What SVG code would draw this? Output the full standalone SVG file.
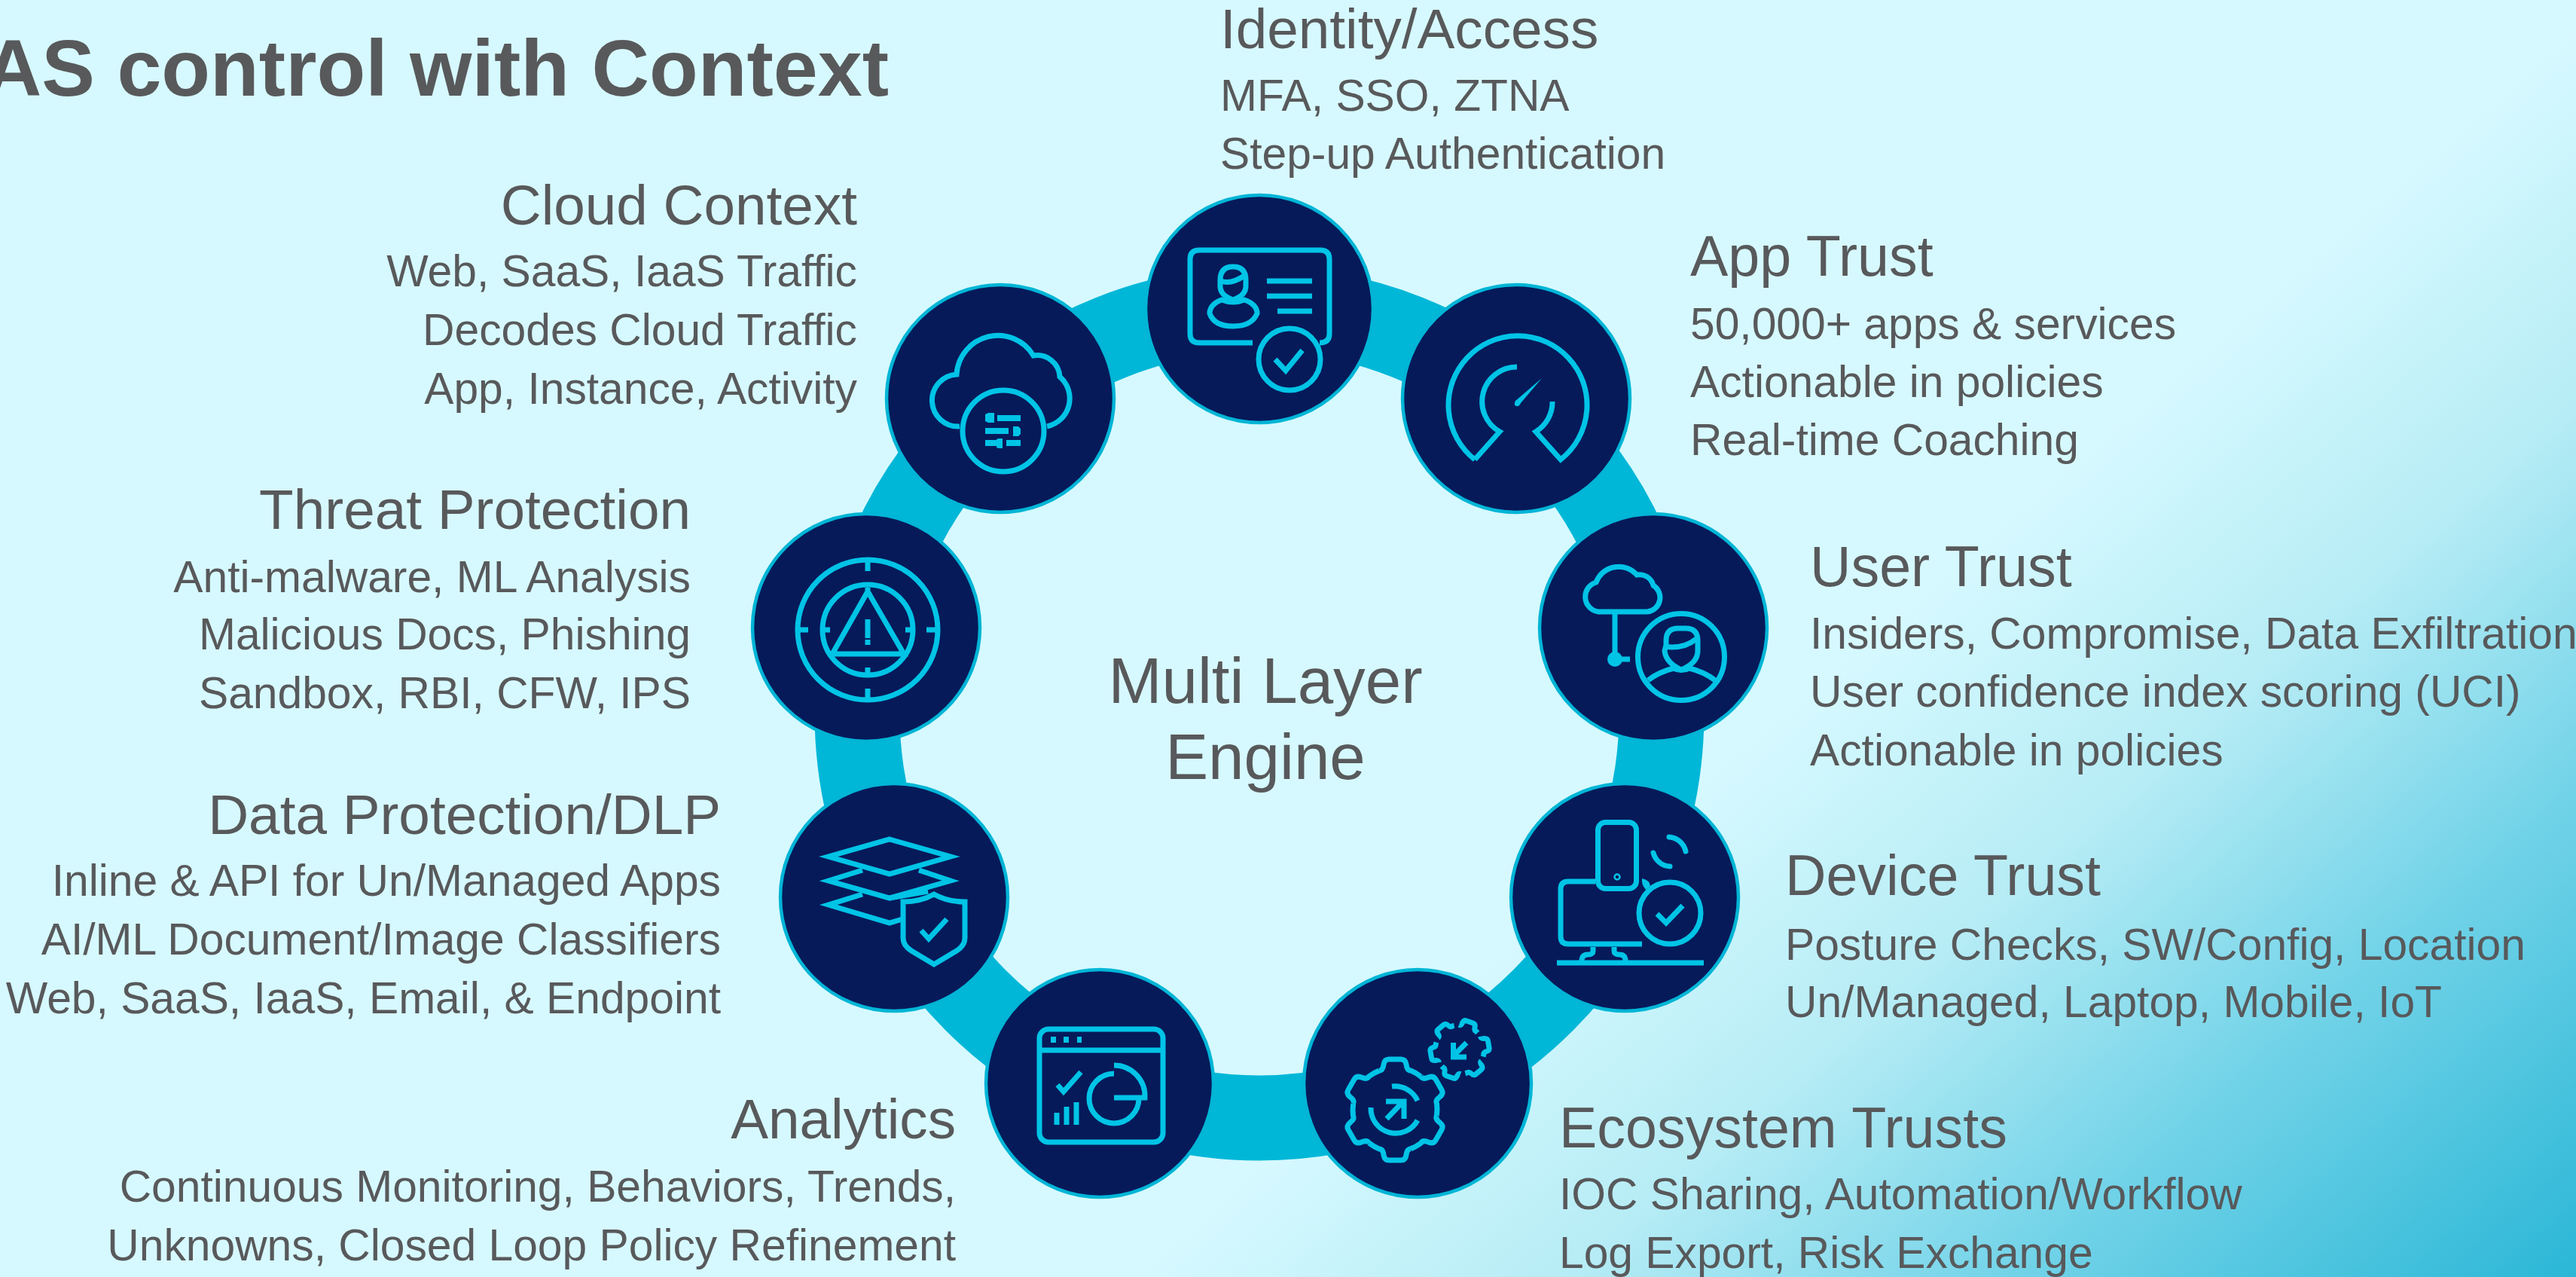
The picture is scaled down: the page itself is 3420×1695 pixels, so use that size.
<svg xmlns="http://www.w3.org/2000/svg" width="3420" height="1695" viewBox="0 0 3420 1695">
<style>
text{font-family:"Liberation Sans",Arial,sans-serif;fill:#58595b}
.title{font-size:106px;font-weight:700}
.h{font-size:74.7px}
.hl{font-size:75.4px}
.b{font-size:58.75px}
.c{font-size:85.3px;text-anchor:middle}
.e{text-anchor:end}
.disc{fill:#061a5a;stroke:#00b5d6;stroke-width:4.5}
.i{fill:none;stroke:#00c4e6;stroke-width:7}
.f{fill:#00c4e6}
</style>
<defs>
<linearGradient id="bg" gradientUnits="userSpaceOnUse" x1="2500" y1="830" x2="3330" y2="1790">
<stop offset="0" stop-color="#d6f9ff"/>
<stop offset=".3" stop-color="#b6ecf5"/>
<stop offset=".6" stop-color="#72d3e8"/>
<stop offset="1" stop-color="#29b6d6"/>
</linearGradient>
<path id="tooth" d="M-21 -52Q-16 -52 -15 -60Q-14 -67 -8 -67H8Q14 -67 15 -60Q16 -52 21 -52A56 56 0 0 1 34.5 -44"/>
</defs>
<rect id="background" width="3420" height="1695" fill="url(#bg)"/>
<text class="title e" x="1180" y="127">AS control with Context</text>
<g id="connectors"><ellipse cx="1672" cy="947" rx="534" ry="537" fill="none" stroke="#00b7d8" stroke-width="113"/></g>
<g id="center"><text class="c" x="1680" y="933">Multi Layer</text><text class="c" x="1680" y="1034">Engine</text></g>

<g id="identity-access">
<circle class="disc" cx="1672" cy="410" r="151"/>
<g class="i">
<path d="M1663 455H1592Q1580 455 1580 443V344Q1580 332 1592 332H1753Q1765 332 1765 344V443Q1765 455 1752 455"/>
<path d="M1682 373H1742M1682 393H1742M1696 413H1742"/>
<circle cx="1712" cy="477" r="41"/>
<path d="M1693 477L1707 492L1729 465"/>
<path d="M1620 372Q1620 354 1637 354Q1654 354 1654 372V380Q1654 392 1637 398Q1620 392 1620 380Z"/>
<path d="M1621 373Q1634 378 1652 366"/>
<path d="M1622 398Q1606 404 1606 416Q1612 433 1637 433Q1662 433 1669 416Q1669 404 1652 398Q1637 404 1622 398Z"/>
</g>
<text class="h" x="1620" y="64">Identity/Access</text>
<text class="b" x="1620" y="147">MFA, SSO, ZTNA</text>
<text class="b" x="1620" y="224">Step-up Authentication</text>
</g>

<g id="app-trust">
<circle class="disc" cx="2013" cy="529" r="151"/>
<g class="i">
<path d="M1958 610A92 92 0 1 1 2072 610L2039 573A46 46 0 0 0 2061 533"/>
<path d="M2014 487A46 46 0 0 0 1991 573L1958 610"/>
</g>
<path class="f" d="M2047 502L2012 532Q2009 538 2013 539Q2017 540 2019 535Z"/>
<text class="hl" x="2244" y="366">App Trust</text>
<text class="b" x="2244" y="450">50,000+ apps &amp; services</text>
<text class="b" x="2244" y="527">Actionable in policies</text>
<text class="b" x="2244" y="604">Real-time Coaching</text>
</g>

<g id="user-trust">
<circle class="disc" cx="2195" cy="833" r="151"/>
<g class="i">
<path d="M2122 812A20 20 0 0 1 2119 773A32 32 0 0 1 2173 763A19 19 0 0 1 2195 777A19 19 0 0 1 2187 812Z"/>
<path d="M2144 812V875H2164"/>
<circle cx="2232" cy="872" r="57.5"/>
<path d="M2212 856V850Q2212 834 2228 834H2238Q2254 834 2254 850V864Q2254 880 2232 889Q2212 880 2210 864Z"/>
<path d="M2210 858Q2235 862 2252 848"/>
<path d="M2188 903Q2202 892 2222 887Q2232 892 2243 887Q2263 892 2277 903"/>
</g>
<circle class="f" cx="2144" cy="875" r="10"/>
<text class="hl" x="2403" y="778">User Trust</text>
<text class="b" x="2403" y="861">Insiders, Compromise, Data Exfiltration</text>
<text class="b" x="2403" y="938">User confidence index scoring (UCI)</text>
<text class="b" x="2403" y="1016">Actionable in policies</text>
</g>

<g id="device-trust">
<circle class="disc" cx="2157" cy="1191" r="151"/>
<g class="i">
<rect x="2121.5" y="1091.5" width="51" height="88" rx="10"/>
<path d="M2118 1170H2082Q2072 1170 2072 1180V1243Q2072 1253 2082 1253H2180"/>
<path d="M2115 1257V1262Q2115 1267 2108 1267Q2100 1267 2100 1275M2143 1257V1262Q2143 1267 2150 1267Q2158 1267 2158 1275"/>
<path d="M2067 1278H2262"/>
<circle cx="2217" cy="1212" r="41"/>
<path d="M2200 1213L2212 1225L2234 1202"/>
<path d="M2216 1111A24 24 0 0 1 2238 1130M2195 1132A24 24 0 0 0 2217 1150" stroke-linecap="round"/>
</g>
<circle cx="2147" cy="1164" r="3.5" fill="none" stroke="#00c4e6" stroke-width="2.5"/>
<path class="f" d="M2180 1166Q2190 1168 2191 1176L2185 1181Q2179 1174 2180 1166Z"/>
<text class="hl" x="2370" y="1188">Device Trust</text>
<text class="b" x="2370" y="1274">Posture Checks, SW/Config, Location</text>
<text class="b" x="2370" y="1350">Un/Managed, Laptop, Mobile, IoT</text>
</g>

<g id="ecosystem-trusts">
<circle class="disc" cx="1882" cy="1438" r="151"/>
<g class="i">
<g transform="translate(1852 1473)">
<use href="#tooth"/><use href="#tooth" transform="rotate(60)"/><use href="#tooth" transform="rotate(120)"/><use href="#tooth" transform="rotate(180)"/><use href="#tooth" transform="rotate(240)"/><use href="#tooth" transform="rotate(300)"/>
</g>
<path d="M1848 1442A33 33 0 0 1 1882 1461M1820 1470A33 33 0 0 0 1882 1487"/>
<path d="M1841 1485L1863 1462M1840 1462H1864V1485"/>
<g transform="translate(1938 1393) rotate(20) scale(.58)" stroke-width="12" stroke-dasharray="64 11">
<use href="#tooth"/><use href="#tooth" transform="rotate(60)"/><use href="#tooth" transform="rotate(120)"/><use href="#tooth" transform="rotate(180)"/><use href="#tooth" transform="rotate(240)"/><use href="#tooth" transform="rotate(300)"/>
</g>
<path d="M1947 1384L1932 1399M1929.5 1384V1403H1947"/>
</g>
<text class="hl" x="2070" y="1523">Ecosystem Trusts</text>
<text class="b" x="2070" y="1605">IOC Sharing, Automation/Workflow</text>
<text class="b" x="2070" y="1683">Log Export, Risk Exchange</text>
</g>

<g id="analytics">
<circle class="disc" cx="1460" cy="1438" r="151"/>
<g class="i">
<rect x="1380" y="1366" width="164" height="150" rx="12"/>
<path d="M1380 1394H1544"/>
<path d="M1404 1440L1412 1449L1435 1423"/>
<path d="M1403 1493V1477M1416 1493V1469M1429 1493V1463"/>
<path d="M1479 1425A33 33 0 1 0 1512 1458"/>
<path d="M1479 1414A41 41 0 0 1 1520 1457H1479"/>
</g>
<path class="f" d="M1395 1376h7v8h-7zM1412 1376h7v8h-7zM1430 1376h6v8h-6z"/>
<text class="h e" x="1269" y="1511">Analytics</text>
<text class="b e" x="1269" y="1595">Continuous Monitoring, Behaviors, Trends,</text>
<text class="b e" x="1269" y="1673">Unknowns, Closed Loop Policy Refinement</text>
</g>

<g id="data-protection">
<circle class="disc" cx="1187" cy="1191" r="151"/>
<g class="i">
<path d="M1181 1114L1262 1137L1181 1160L1100 1137Z"/>
<path d="M1220 1155L1262 1169L1181 1192L1100 1169L1145 1155"/>
<path d="M1145 1187L1100 1201L1181 1225L1198 1220M1181 1192L1232 1183"/>
<path d="M1240 1187Q1222 1197 1199 1197V1245Q1199 1255 1210 1262L1240 1280L1270 1262Q1281 1255 1281 1245V1197Q1258 1197 1240 1187Z"/>
<path d="M1223 1235L1233 1246L1257 1220"/>
</g>
<text class="h e" x="957" y="1107">Data Protection/DLP</text>
<text class="b e" x="957" y="1189">Inline &amp; API for Un/Managed Apps</text>
<text class="b e" x="957" y="1267">AI/ML Document/Image Classifiers</text>
<text class="b e" x="957" y="1345">Web, SaaS, IaaS, Email, &amp; Endpoint</text>
</g>

<g id="threat-protection">
<circle class="disc" cx="1150" cy="833" r="151"/>
<g class="i">
<circle cx="1152" cy="836" r="93"/>
<circle cx="1152" cy="836" r="60"/>
<path d="M1152 746V758M1152 914V926M1062 836H1073M1230 836H1242M1095 836H1102M1202 836H1209M1152 886V893"/>
<path d="M1152 780V788M1152 785L1105 868H1200Z"/>
<path d="M1152 822V847M1152 849V856"/>
</g>
<text class="h e" x="917" y="702">Threat Protection</text>
<text class="b e" x="917" y="786">Anti-malware, ML Analysis</text>
<text class="b e" x="917" y="862">Malicious Docs, Phishing</text>
<text class="b e" x="917" y="940">Sandbox, RBI, CFW, IPS</text>
</g>

<g id="cloud-context">
<circle class="disc" cx="1328" cy="529" r="151"/>
<g class="i">
<path d="M1274 566A34 34 0 1 1 1270 497A55 55 0 0 1 1372 472A30 30 0 0 1 1407 500A38 38 0 0 1 1390 566"/>
<circle cx="1332" cy="572" r="54"/>
</g>
<path class="f" d="M1324 551h31v8h-31zM1308 550l4-2h8v13h-8l-4-2zM1308 568h31v8h-31zM1345 566h7l3 3v7l-3 3h-7zM1308 584h15v8h-15zM1323 583l3-1h5v13h-5l-3-1zM1336 584h19v8h-19z"/>
<text class="h e" x="1138" y="298">Cloud Context</text>
<text class="b e" x="1138" y="380">Web, SaaS, IaaS Traffic</text>
<text class="b e" x="1138" y="458">Decodes Cloud Traffic</text>
<text class="b e" x="1138" y="536">App, Instance, Activity</text>
</g>
</svg>
